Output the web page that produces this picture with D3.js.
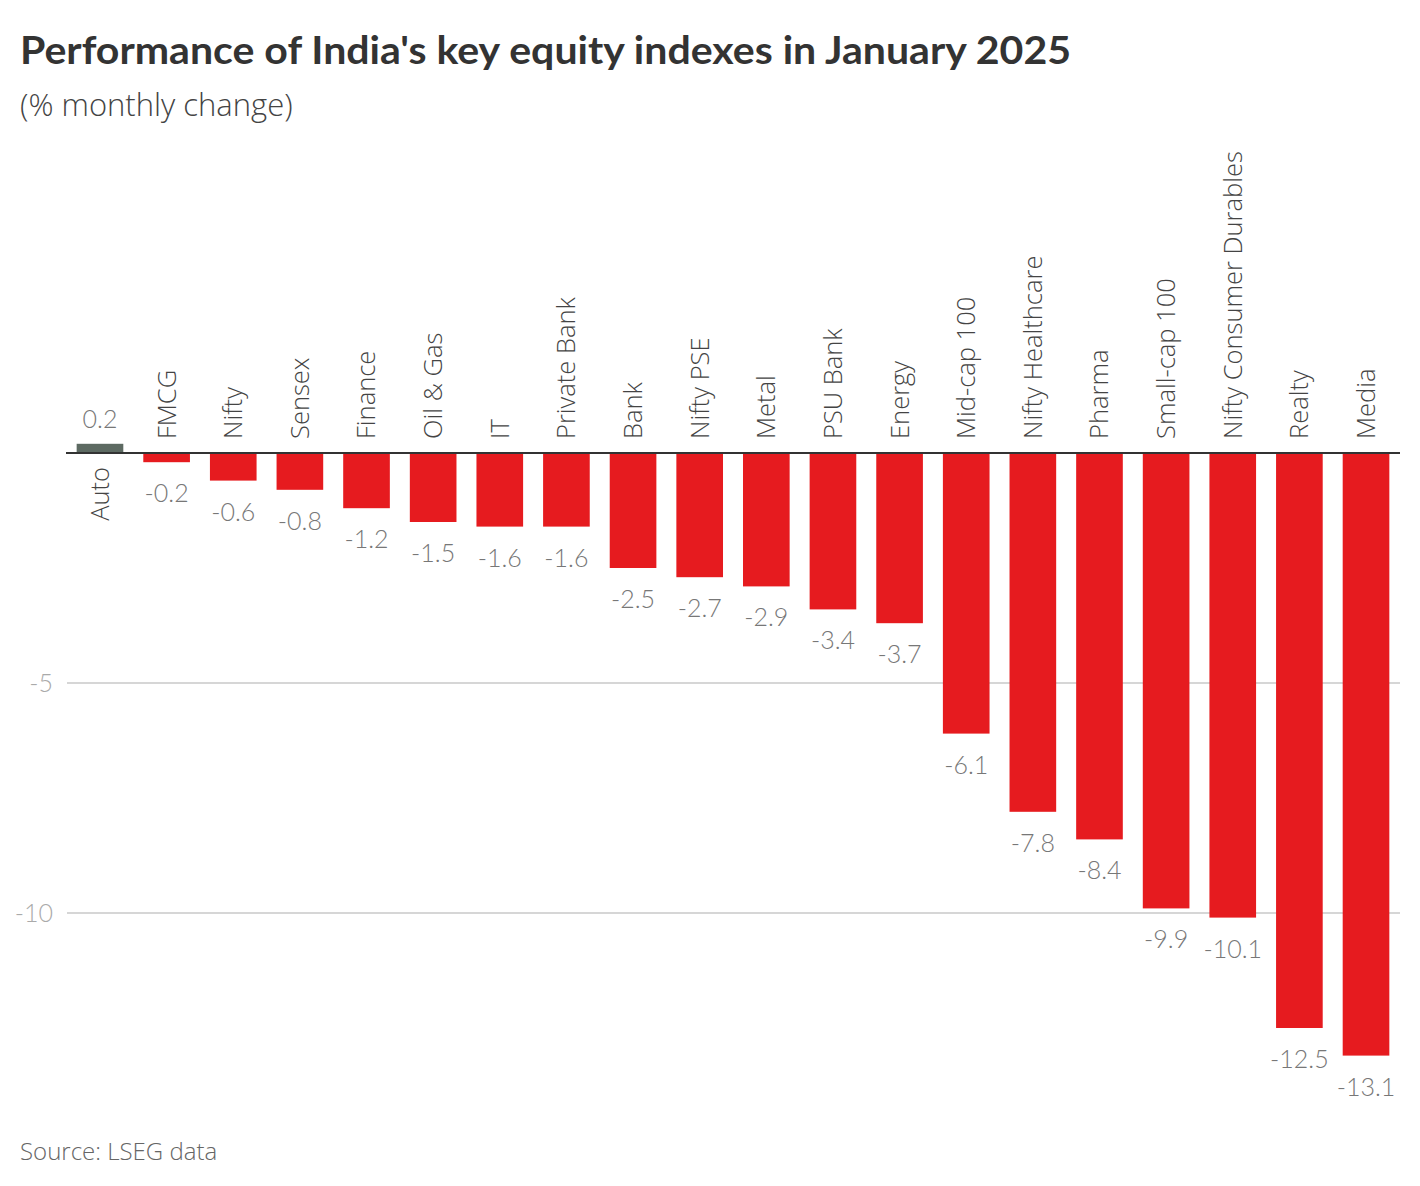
<!DOCTYPE html>
<html>
<head>
<meta charset="utf-8">
<script src="https://cdn.jsdelivr.net/npm/d3@7"></script>
<style>
  body { margin: 0; background: #fff; }
  svg text { font-family: Lato, "Open Sans", sans-serif; }
  svg text.os { font-family: "Open Sans", Lato, sans-serif; }
</style>
</head>
<body>
<svg id="chart" width="1420" height="1186"></svg>
<script>
// categories and monthly % change, Jan 2025
const categories = ["Auto", "FMCG", "Nifty", "Sensex", "Finance", "Oil & Gas", "IT",
  "Private Bank", "Bank", "Nifty PSE", "Metal", "PSU Bank", "Energy", "Mid-cap 100",
  "Nifty Healthcare", "Pharma", "Small-cap 100", "Nifty Consumer Durables", "Realty", "Media"];
const values = [0.2, -0.2, -0.6, -0.8, -1.2, -1.5, -1.6, -1.6, -2.5, -2.7, -2.9, -3.4,
  -3.7, -6.1, -7.8, -8.4, -9.9, -10.1, -12.5, -13.1];
const yTicks = [-5, -10];

const data = categories.map((c, i) => ({ name: c, value: values[i] }));

// plain hyphen for negatives, like the original
const fmt = d3.formatLocale({ decimal: ".", thousands: ",", grouping: [3], currency: ["", ""], minus: "-" }).format(".1f");

const svg = d3.select("#chart");

// --- titles ---
svg.append("text")
  .attr("x", 20).attr("y", 64)
  .attr("textLength", 1051).attr("lengthAdjust", "spacingAndGlyphs")
  .style("font-size", "39px").style("font-weight", 700)
  .style("fill", "#333")
  .text("Performance of India's key equity indexes in January 2025");

svg.append("text")
  .attr("class", "os")
  .attr("x", 20).attr("y", 116)
  .style("font-size", "31px").style("font-weight", 300)
  .style("fill", "#444")
  .text("(% monthly change)");

svg.append("text")
  .attr("class", "os")
  .attr("x", 20).attr("y", 1160)
  .style("font-size", "24px").style("font-weight", 300)
  .style("fill", "#666")
  .text("Source: LSEG data");

// --- scales ---
const x = d3.scaleBand()
  .domain(categories)
  .range([66, 1400])
  .paddingInner(0.3)
  .paddingOuter(0.16);

const y = d3.scaleLinear()
  .domain([0, -10])
  .range([453, 913]);

// gridlines
svg.append("g")
  .selectAll("line")
  .data(yTicks)
  .join("line")
  .attr("x1", 67).attr("x2", 1400)
  .attr("y1", d => y(d)).attr("y2", d => y(d))
  .attr("stroke", "#c8c8c8").attr("stroke-width", 1.5);

svg.append("g")
  .selectAll("text")
  .data(yTicks)
  .join("text")
  .attr("x", 53).attr("y", d => y(d))
  .attr("dy", "0.35em")
  .attr("text-anchor", "end")
  .style("font-size", "25px").style("font-weight", 300)
  .style("fill", "#aaa")
  .text(d => d);

// bars
svg.append("g")
  .selectAll("rect")
  .data(data)
  .join("rect")
  .attr("x", d => x(d.name))
  .attr("width", x.bandwidth())
  .attr("y", d => Math.min(y(0), y(d.value)))
  .attr("height", d => Math.abs(y(d.value) - y(0)))
  .attr("fill", d => d.value >= 0 ? "#5d6a62" : "#e61b1f");

// zero line
svg.append("line")
  .attr("x1", 66).attr("x2", 1400)
  .attr("y1", y(0)).attr("y2", y(0))
  .attr("stroke", "#333").attr("stroke-width", 2);

// value labels
svg.append("g")
  .selectAll("text")
  .data(data)
  .join("text")
  .attr("x", d => x(d.name) + x.bandwidth() / 2)
  .attr("y", d => d.value >= 0 ? y(d.value) - 16 : y(d.value) + 40)
  .attr("text-anchor", "middle")
  .style("font-size", "25px").style("font-weight", 300)
  .style("fill", "#777")
  .style("stroke", "#fff").style("stroke-width", 4).style("paint-order", "stroke")
  .text(d => fmt(d.value));

// category labels, rotated
svg.append("g")
  .selectAll("text")
  .data(data)
  .join("text")
  .attr("class", "os")
  .attr("transform", d => {
    const cx = x(d.name) + x.bandwidth() / 2;
    const ty = d.value >= 0 ? y(0) + 14 : y(0) - 14;
    return `translate(${cx},${ty}) rotate(-90)`;
  })
  .attr("dy", "0.35em")
  .attr("text-anchor", d => d.value >= 0 ? "end" : "start")
  .style("font-size", "25.5px").style("font-weight", 300)
  .style("fill", "#444")
  .text(d => d.name);
</script>
</body>
</html>
